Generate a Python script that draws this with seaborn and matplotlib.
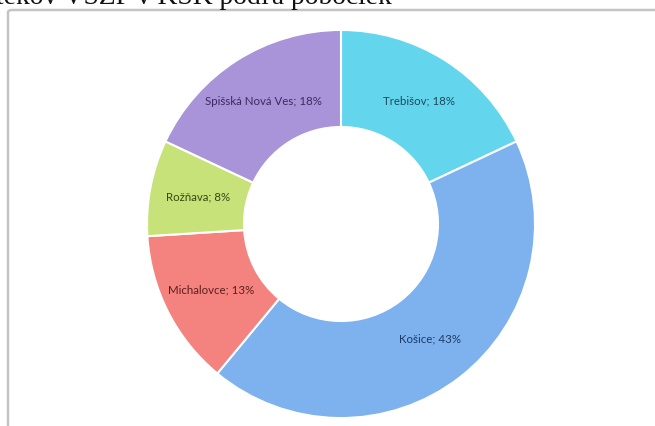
import matplotlib
matplotlib.use("Agg")
import matplotlib.pyplot as plt
import seaborn as sns
from matplotlib.patches import FancyBboxPatch
import numpy as np

sns.set_theme(style="white")
plt.rcParams['font.family'] = ['Lato', 'DejaVu Sans']

categories = ["Trebišov", "Košice", "Michalovce", "Rožňava", "Spišská Nová Ves"]
shares = [18, 43, 13, 8, 18]
colors = ["#63D6EE", "#7DB2EE", "#F4837F", "#C8E27A", "#A994DA"]
text_colors = ["#1d4a5c", "#1c3a66", "#5a1f1c", "#2f4a12", "#3a2c5e"]
title_text = "tekov VSZP v KSK podľa pobočiek"

W, H = 655, 426
fig = plt.figure(figsize=(W / 100, H / 100), dpi=100)
fig.patch.set_facecolor("white")

# chart frame (extends beyond right/bottom edge)
frame = FancyBboxPatch((8 / W, -0.05), 1.2, 1 - 10 / H + 0.05,
                       boxstyle="round,pad=0,rounding_size=0.006",
                       transform=fig.transFigure, facecolor="none",
                       edgecolor="#c4c4c4", linewidth=1.8, zorder=-5)
fig.patches.append(frame)

# title (clipped at top)
fig.text(-4 / W, 1 - 4 / H, title_text, family="Liberation Serif",
         fontsize=19.8, color="#111111", ha="left", va="baseline")

cx, cy, R = 341, 224, 195
ax = fig.add_axes([(cx - R) / W, (H - cy - R) / H, 2 * R / W, 2 * R / H])
ax.patch.set_alpha(0)

wedges, _ = ax.pie(shares, startangle=90, counterclock=False, colors=colors,
                   radius=1.0,
                   wedgeprops=dict(width=0.5, edgecolor="white", linewidth=1.5))
ax.set_xlim(-1.005, 1.005)
ax.set_ylim(-1.005, 1.005)
ax.set_aspect("equal")
ax.axis("off")

# labels in middle of ring
total = sum(shares)
cum = 0
for cat, val, tc in zip(categories, shares, text_colors):
    mid = (cum + val / 2) / total * 360
    cum += val
    ang = np.deg2rad(90 - mid)
    r = 0.75
    ax.text(r * np.cos(ang), r * np.sin(ang), f"{cat}; {val}%",
            ha="center", va="center", fontsize=8.3, color=tc)

fig.savefig("out.png", dpi=100)
